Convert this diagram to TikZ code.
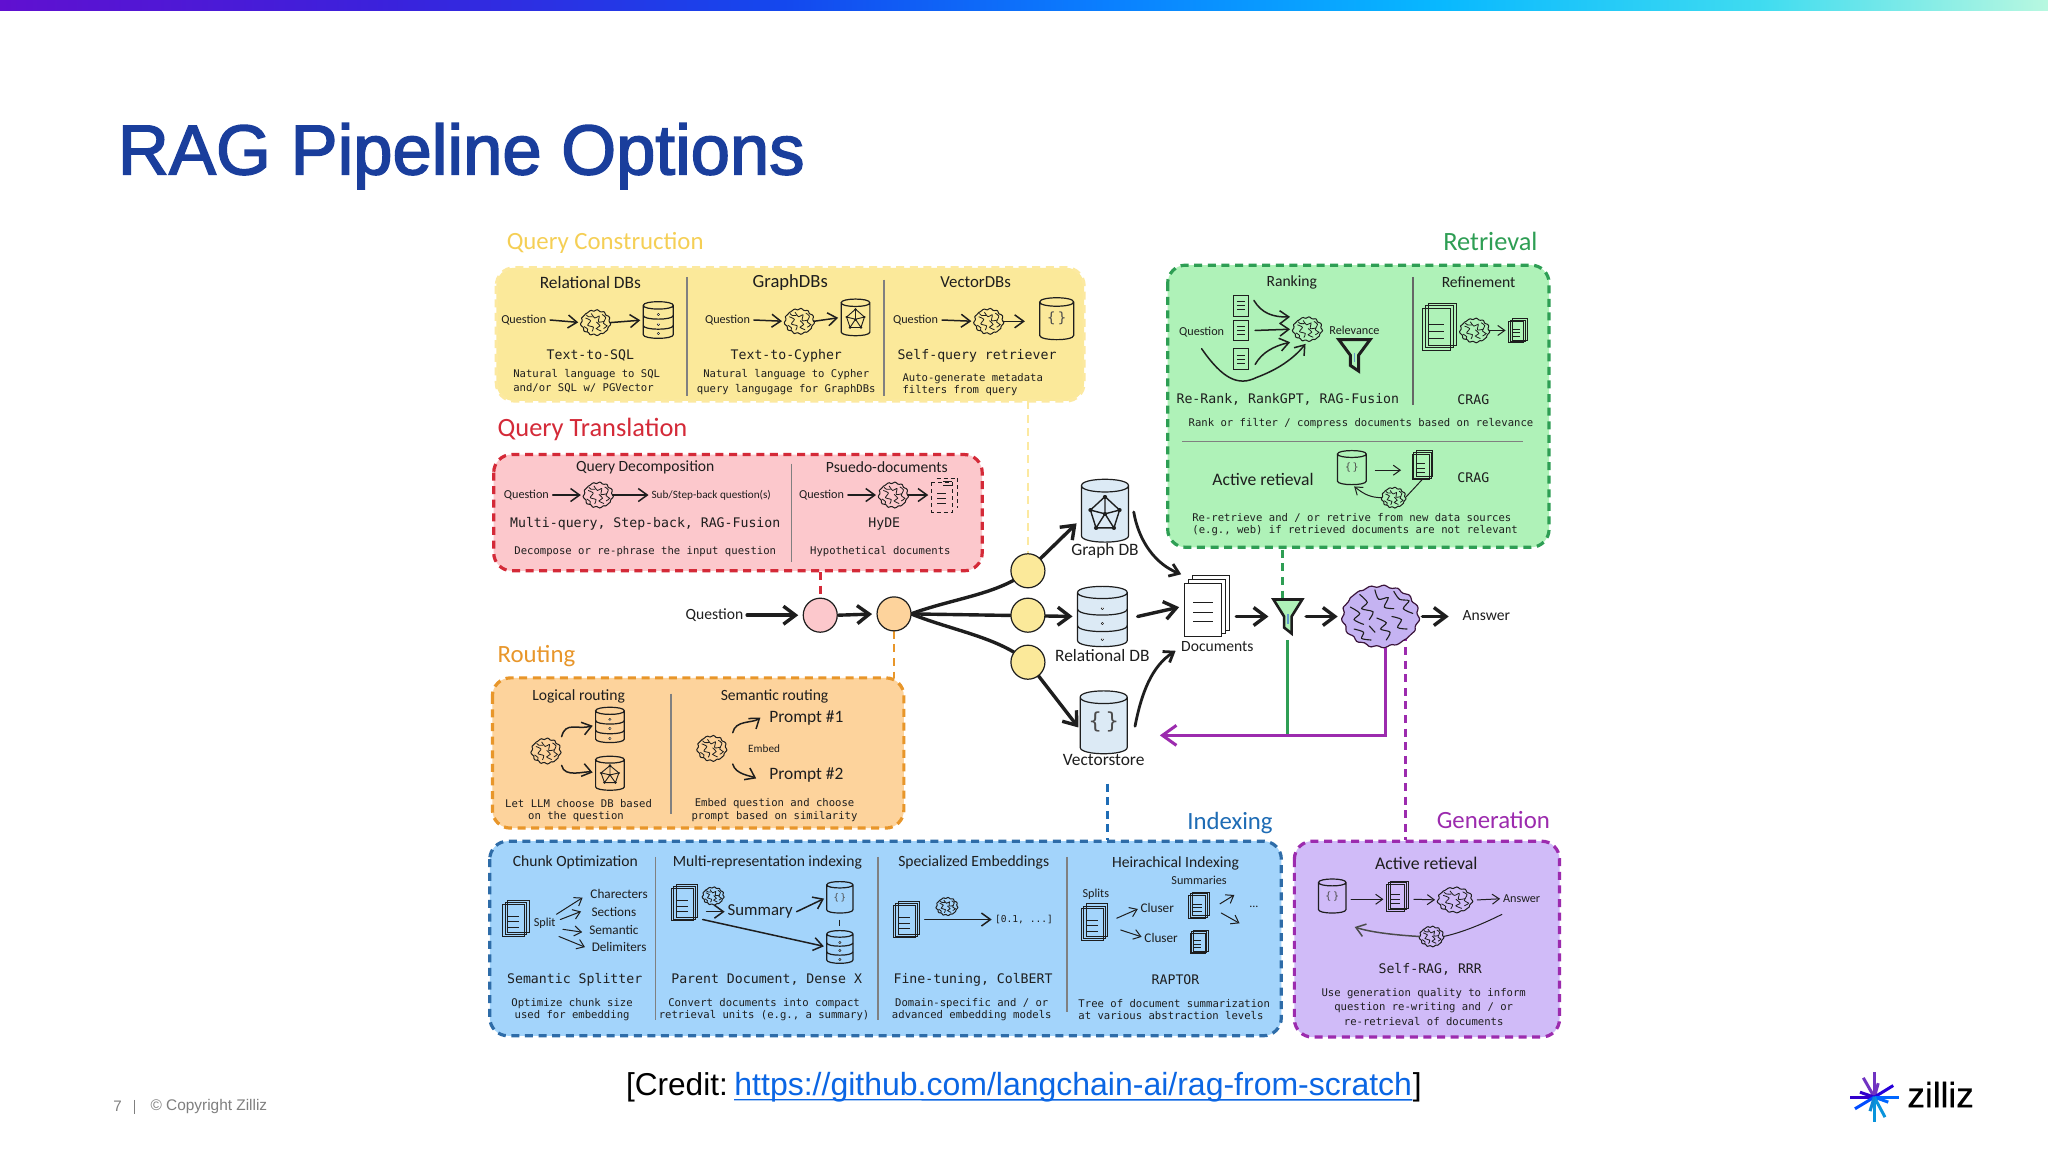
\documentclass[tikz,border=0pt]{standalone}
\usepackage{fontspec}
\usetikzlibrary{arrows.meta}
\setmainfont{Liberation Sans}
\newfontfamily\monof{DejaVu Sans Mono}
\newfontfamily\handf{Carlito}
\newfontfamily\titlef[FakeBold=2.2]{Liberation Sans}
\newfontfamily\logof[FakeBold=0.3]{Liberation Sans}
\definecolor{ink}{HTML}{1E1E1E}
\definecolor{yfill}{HTML}{FBE99A}\definecolor{yline}{HTML}{FCE9A0}\definecolor{ytxt}{HTML}{F5CF55}
\definecolor{rfill}{HTML}{FCC8CC}\definecolor{rline}{HTML}{D42A38}
\definecolor{ofill}{HTML}{FDD39C}\definecolor{oline}{HTML}{E8962A}
\definecolor{bfill}{HTML}{A3D4FB}\definecolor{bline}{HTML}{2E6CA8}\definecolor{btxt}{HTML}{1E6CB5}
\definecolor{gfill}{HTML}{AFF2B8}\definecolor{gline}{HTML}{2E9E54}
\definecolor{pfill}{HTML}{D0BBF8}\definecolor{pline}{HTML}{9C2BAE}
\definecolor{cylblue}{HTML}{DCEAF5}
\definecolor{bigbrain}{HTML}{C5B3F2}
\definecolor{titleblue}{HTML}{1A3E9C}
\definecolor{linkblue}{HTML}{0B66E4}
\definecolor{footgray}{HTML}{7F7F7F}
\pgfdeclarelayer{bg}\pgfdeclarelayer{conn}\pgfsetlayers{bg,conn,main}
\newcommand{\lowArc}[1]{(-1,#1) .. controls (-1,{#1+.27}) and (1,{#1+.27}) .. (1,#1)}
\newcommand{\ringdot}[1]{\draw[draw=ink,line width=1.5pt,line cap=round] (0,#1) -- ++(.001,0);\draw[draw=white,line width=.6pt,line cap=round] (0,#1) -- ++(.001,0);}
\newcommand{\ico}[6]{\node[inner sep=0pt,outer sep=0pt,minimum width={2*#4*0.65306pt},minimum height={2*#5*0.65306pt}] (#1) at (#2,#3) {};\pic[xscale=#4,yscale=#5] at (#1) {#6};}
\newcommand{\ray}[3]{\draw[line width=1.5pt,draw=#3] (1435,840) -- ++(#1,#2);}
\newcommand{\cylpath}[1]{\path[draw=ink,fill=#1,line width=.6pt] (-1,-.8) -- (-1,.8) .. controls (-1,1.07) and (1,1.07) .. (1,.8) -- (1,-.8) .. controls (1,-1.07) and (-1,-1.07) .. (-1,-.8) .. controls (-1,-.53) and (1,-.53) .. (1,-.8);}
\tikzset{
 x=0.65306pt,y=-0.65306pt,
 hnd/.style={font=\handf\fontsize{7.8}{9}\selectfont,text=ink,inner sep=0pt,outer sep=0pt},
 hmid/.style={font=\handf\fontsize{8.7}{10}\selectfont,text=ink,inner sep=0pt,outer sep=0pt},
 hsm/.style={font=\handf\fontsize{6.1}{7}\selectfont,text=ink,inner sep=0pt,outer sep=0pt},
 hsk/.style={font=\handf\fontsize{6.6}{8}\selectfont,text=ink,inner sep=0pt,outer sep=0pt},
 hbig/.style={font=\handf\fontsize{12.4}{14}\selectfont,inner sep=0pt,outer sep=0pt},
 hbg/.style={font=\handf\fontsize{13.2}{15}\selectfont,inner sep=0pt,outer sep=0pt},
 mlab/.style={font=\monof\fontsize{6.6}{8}\selectfont,text=ink,inner sep=0pt,outer sep=0pt},
 mdesc/.style={font=\monof\fontsize{5.3}{6.5}\selectfont,text=ink,inner sep=0pt,outer sep=0pt},
 ar/.style={draw=ink,line width=.75pt,line cap=round,shorten >=1.5pt,-{Straight Barb[length=4.5pt,width=6.5pt]}},
 ars/.style={draw=ink,line width=.5pt,line cap=round,shorten >=1.5pt,-{Straight Barb[length=3.5pt,width=5pt]}},
 arbig/.style={draw=ink,line width=1.7pt,line cap=round,shorten >=2.5pt,-{Straight Barb[length=6pt,width=9pt]}},
 panel/.style={line width=1.6pt,rounded corners=9pt,dash pattern=on 4pt off 2.8pt},
 divid/.style={draw=#1,line width=.8pt},
 dconn/.style={draw=#1,line width=1.3pt,dash pattern=on 4pt off 2.8pt},
 circ/.style={circle,draw=ink,line width=.6pt,minimum size=17pt,inner sep=0pt,outer sep=0pt,fill=#1},
 pics/brainp/.style={code={
  \path[draw=ink,fill=#1,line width=.5pt] plot[smooth cycle,domain=0:354,samples=60] ({(1+.06*sin(11*\x))*cos(\x)},{(.94+.06*cos(13*\x))*sin(\x)});
  \draw[ink,line width=.4pt] plot[smooth] coordinates {(-.7,-.35)(-.35,-.15)(-.55,.2)(-.15,.35)(-.25,.68)};
  \draw[ink,line width=.4pt] plot[smooth] coordinates {(-.3,-.7)(-.05,-.35)(.25,-.5)(.2,-.05)(.6,-.1)};
  \draw[ink,line width=.4pt] plot[smooth] coordinates {(.05,-.05)(.3,.25)(.05,.45)(.4,.65)};
  \draw[ink,line width=.4pt] plot[smooth] coordinates {(.45,-.62)(.7,-.4)(.55,.05)(.8,.25)(.55,.45)};
  \draw[ink,line width=.4pt] plot[smooth] coordinates {(-.8,.3)(-.55,.5)(-.6,.72)};
  \draw[ink,line width=.4pt] plot[smooth] coordinates {(-.65,-.6)(-.5,-.45)(-.2,-.45)};
 }},
 pics/brainp/.default=none,
 pics/bigbrainp/.style={code={
  \path[draw=ink!70!violet,fill=#1,line width=.6pt] plot[smooth cycle,domain=0:356,samples=90] ({(1+.035*sin(15*\x))*cos(\x)},{(.97+.035*cos(17*\x))*sin(\x)});
  \foreach \pts in {
   {(-.8,-.3)(-.55,-.1)(-.7,.1)(-.45,.25)},
   {(-.55,-.7)(-.35,-.45)(-.5,-.25)(-.2,-.15)(-.3,.1)},
   {(-.15,-.85)(-.05,-.55)(.2,-.6)(.1,-.3)(.35,-.25)},
   {(.35,-.8)(.5,-.55)(.75,-.5)(.6,-.25)(.85,-.1)},
   {(-.1,.05)(.15,.2)(0,.4)(.25,.5)(.15,.75)},
   {(.3,0)(.55,.1)(.45,.35)(.7,.4)},
   {(-.7,.4)(-.45,.5)(-.5,.7)(-.25,.75)},
   {(-.3,.3)(-.15,.5)}}{
   \draw[ink,line width=.55pt,line cap=round] plot[smooth] coordinates \pts;}
 }},
 pics/vecp/.style 2 args={code={
  \cylpath{#1}
  \node[inner sep=0pt,font=\monof\fontsize{#2}{#2}\selectfont,text=ink!80] (vecbrace) at (0,0) {\{\,\}};
 }},
 pics/dbp/.style={code={
  \cylpath{#1}
  \draw[ink,line width=.6pt] \lowArc{-.25};
  \draw[ink,line width=.6pt] \lowArc{.3};
  \ringdot{-.28}\ringdot{.22}\ringdot{.75}
 }},
 pics/graphp/.style 2 args={code={
  \cylpath{#1}
  \draw[ink,line width=#2,line join=round] (0,-.45) -- (.62,-.02) -- (.38,.55) -- (-.38,.55) -- (-.62,-.02) -- cycle (0,-.45) -- (0,.1) (.62,-.02) -- (0,.1) (.38,.55) -- (0,.1) (-.38,.55) -- (0,.1) (-.62,-.02) -- (0,.1);
  \foreach \q/\r in {0/-.45,.62/-.02,.38/.55,-.38/.55,-.62/-.02,0/.1}{\draw[ink,line width=3*#2,line cap=round] (\q,\r) -- ++(.001,0);}
 }},
 pics/docsp/.style 2 args={code={
  \path[draw=ink,fill=#1,line width=#2] (-.62,-1) rectangle (1,.8);
  \path[draw=ink,fill=#1,line width=#2] (-.82,-.88) rectangle (.82,.9);
  \path[draw=ink,fill=#1,line width=#2] (-1,-.75) rectangle (.65,1);
  \draw[ink,line width=#2] (-.6,-.1) -- (.25,-.1) (-.6,.2) -- (.25,.2) (-.6,.5) -- (.25,.5);
 }},
 pics/onedocp/.style={code={
  \draw[ink,line width=.5pt] (-1,-1) rectangle (1,1);
  \draw[ink,line width=.4pt] (-.5,-.4) -- (.5,-.4) (-.5,0) -- (.5,0) (-.5,.4) -- (.5,.4);
 }},
 pics/dashdocp/.style={code={
  \draw[ink,line width=.5pt,dash pattern=on 2pt off 1.5pt] (-1,-.75) rectangle (.6,1);
  \draw[ink,line width=.5pt,dash pattern=on 2pt off 1.5pt] (-.6,-1) -- (1,-1) -- (1,.75);
  \draw[ink,line width=.5pt] (-.55,-.1) -- (.15,-.1) (-.55,.2) -- (.15,.2) (-.55,.5) -- (.15,.5) (-.1,-.8) -- (.6,-.8) (-.1,-.55) -- (.6,-.55);
 }},
 pics/funnelp/.style 2 args={code={
  \path[draw=ink,fill=#1,line width=#2,line join=miter] (-1,-1) -- (1,-1) -- (.26,.0) -- (.26,1) -- (-.26,.65) -- (-.26,.0) -- cycle;
  \draw[line width=.8pt,draw=btxt!70] (0,-.15) -- (0,.45);
 }},
}
\begin{document}
\begin{tikzpicture}
\useasboundingbox (0,0) rectangle (1568,882);
\begin{pgfonlayer}{bg}
\fill[white] (0,0) rectangle (1568,882);
\shade[left color={rgb,255:red,96;green,16;blue,208},right color={rgb,255:red,58;green,34;blue,220}] (0,0) rectangle (301,8);
\shade[left color={rgb,255:red,58;green,34;blue,220},right color={rgb,255:red,20;green,72;blue,238}] (300,0) rectangle (601,8);
\shade[left color={rgb,255:red,20;green,72;blue,238},right color={rgb,255:red,10;green,128;blue,255}] (600,0) rectangle (851,8);
\shade[left color={rgb,255:red,10;green,128;blue,255},right color={rgb,255:red,8;green,184;blue,255}] (850,0) rectangle (1101,8);
\shade[left color={rgb,255:red,8;green,184;blue,255},right color={rgb,255:red,64;green,220;blue,240}] (1100,0) rectangle (1351,8);
\shade[left color={rgb,255:red,64;green,220;blue,240},right color={rgb,255:red,184;green,248;blue,224}] (1350,0) rectangle (1568,8);
\end{pgfonlayer}

\node[font=\titlef\fontsize{35.3}{37}\selectfont,text=titleblue,anchor=base west,inner sep=0pt] (title) at (90,133.5) {RAG Pipeline Options};

%% panels
\path[panel,fill=yfill,draw=yline] (380,205) rectangle (830,307);
\path[panel,fill=rfill,draw=rline] (378,348) rectangle (752,437);
\path[panel,fill=ofill,draw=oline] (377,519) rectangle (692,634);
\path[panel,fill=bfill,draw=bline] (375,644) rectangle (981,793);
\path[panel,fill=pfill,draw=pline] (991,644) rectangle (1194,794);
\path[panel,fill=gfill,draw=gline] (894,203) rectangle (1186,419);

%% panel titles
\node[hbig,text=ytxt,anchor=west] (tqc) at (388,186) {Query Construction};
\node[hbg,text=rline,anchor=west] (tqt) at (381,329) {Query Translation};
\node[hbig,text=oline,anchor=west] (trt) at (381,502) {Routing};
\node[hbig,text=btxt,anchor=west] (tix) at (909,630) {Indexing};
\node[hbig,text=pline,anchor=west] (tgn) at (1100,628) {Generation};
\node[hbg,text=gline,anchor=west] (trv) at (1105,185) {Retrieval};

%% ---- Query construction
\draw[divid=black!50] (526,212) -- (526,303);
\draw[divid=black!50] (677,214) -- (677,303);
\node[hmid] (h1) at (452,216) {Relational DBs};
\node[hmid,font=\handf\fontsize{9.3}{10}\selectfont] (h2) at (605,216) {GraphDBs};
\node[hmid,font=\handf\fontsize{8.4}{10}\selectfont] (h3) at (747,216) {VectorDBs};
\node[hsm] (qa) at (401,245) {Question};
\ico{ba}{456}{247}{11}{10}{brainp}
\ico{da}{504}{245}{11.5}{14}{dbp=none}
\draw[ar] (qa.east)++(3,0) -- (ba.west);
\draw[ar] (ba.east) -- (da.west);
\node[hsm] (qb) at (557,245) {Question};
\ico{bb}{612}{246}{11}{10}{brainp}
\ico{gb}{655}{243}{11}{14}{graphp={none}{.45pt}}
\draw[ar] (qb.east)++(3,0) -- (bb.west);
\draw[ar] (bb.east) -- (gb.west);
\node[hsm] (qc) at (701,245) {Question};
\ico{bc}{757}{246}{11}{10}{brainp}
\ico{vc}{809}{244}{13}{16}{vecp={none}{7}}
\draw[ar] (qc.east)++(3,0) -- (bc.west);
\draw[ar] (bc.east) -- ++(19,0);
\node[mlab] (la) at (452,272.5) {Text-to-SQL};
\node[mlab] (lb) at (602,272.5) {Text-to-Cypher};
\node[mlab] (lc) at (748,272.5) {Self-query retriever};
\node[mdesc,anchor=west] (da1) at (393,286.5) {Natural language to SQL};
\node[mdesc,anchor=west] (da2) at (393,297.5) {and/or SQL w/ PGVector};
\node[mdesc] (db1) at (602,287) {Natural language to Cypher};
\node[mdesc] (db2) at (602,298) {query langugage for GraphDBs};
\node[mdesc,anchor=west] (dc1) at (691,289.5) {Auto-generate metadata};
\node[mdesc,anchor=west] (dc2) at (691,299) {filters from query};

%% ---- Query translation
\draw[divid=black!50] (606,355) -- (606,430);
\node[hnd] (h4) at (494,358) {Query Decomposition};
\node[hnd] (h5) at (679,358) {Psuedo-documents};
\node[hsm] (qd) at (403,379) {Question};
\ico{bd}{458}{379}{11}{10}{brainp}
\node[hsm,font=\handf\fontsize{5.6}{7}\selectfont] (sq) at (544.5,379) {Sub/Step-back question(s)};
\draw[ar] (qd.east)++(3,0) -- (bd.west);
\draw[ar] (bd.east) -- (sq.west);
\node[hsm] (qe) at (629,379) {Question};
\ico{be}{684}{379}{11}{10}{brainp}
\ico{de}{723}{379}{10}{13}{dashdocp}
\draw[ar] (qe.east)++(3,0) -- (be.west);
\draw[ar] (be.east) -- (de.west);
\node[mlab] (ld) at (494,401) {Multi-query, Step-back, RAG-Fusion};
\node[mlab] (le) at (677,401) {HyDE};
\node[mdesc] (dd) at (494,422.5) {Decompose or re-phrase the input question};
\node[mdesc] (de2) at (674,422.5) {Hypothetical documents};

%% ---- Routing
\draw[divid=black!50] (513.5,531) -- (513.5,623);
\node[hnd] (h6) at (443,533.5) {Logical routing};
\node[hnd] (h7) at (593,533) {Semantic routing};
\ico{bf}{418}{575}{11}{10}{brainp}
\ico{df}{467}{555}{11}{13.5}{dbp=none}
\ico{gf}{467}{592}{11}{13}{graphp={none}{.45pt}}
\draw[ar] (bf.north east)++(1,-1) .. controls +(3,-12) and +(-14,4) .. (df.west);
\draw[ar] (bf.south east)++(1,1) .. controls +(2,10) and +(-8,-2) .. (gf.west);
\ico{bg}{545}{573}{11}{10}{brainp}
\node[hmid,anchor=west] (p1) at (589,550) {Prompt \#1};
\node[hmid,anchor=west] (p2) at (589,593) {Prompt \#2};
\node[hsm,font=\handf\fontsize{5.6}{7}\selectfont] (em) at (585,573) {Embed};
\coordinate (pa) at (584,548);
\coordinate (pb) at (581,597);
\draw[ar] (bg.north east)++(5,-2) .. controls +(2,-10) and +(-8,6) .. (pa);
\draw[ar] (bg.south east)++(5,2) .. controls +(2,8) and +(-6,-3) .. (pb);
\node[mdesc] (df1) at (443,615) {Let LLM choose DB based};
\node[mdesc] (df2) at (441,625) {on the question};
\node[mdesc] (dg1) at (593,615) {Embed question and choose};
\node[mdesc] (dg2) at (593,625) {prompt based on similarity};

%% ---- Retrieval
\draw[divid=black!60] (1082,212) -- (1082,310);
\draw[divid=black!50] (905,338) -- (1166,338);
\node[hnd] (h8) at (989,216) {Ranking};
\node[hnd] (h9) at (1132,216) {Refinement};
\node[hsm] (qr) at (920,254) {Question};
\ico{r1}{950}{234}{6}{8}{onedocp}
\ico{r2}{950}{253}{6}{8}{onedocp}
\ico{r3}{950}{275}{6}{8}{onedocp}
\ico{br}{1001}{252}{11}{9.5}{brainp}
\coordinate (ca) at (960,230);
\coordinate (cb) at (961,279);
\coordinate (cc) at (920,267);
\draw[ar] (ca) .. controls (966,240) and (975,243) .. (br.north west);
\draw[ar] (r2.east)++(5,0) -- (br.west);
\draw[ar] (cb) .. controls (966,270) and (975,265) .. (br.south west);
\draw[ar] (cc) .. controls (936,290) and (948,296) .. (962,289) .. controls (978,283) and (990,275) .. (br.south);
\node[hsm,font=\handf\fontsize{6.1}{7}\selectfont] (rl) at (1037,253) {Relevance};
\ico{fr}{1037}{272}{12}{12}{funnelp={none}{1.5pt}}
\ico{dr}{1102}{250}{13}{18}{docsp={none}{.45pt}}
\ico{bs}{1129}{253}{11}{9.5}{brainp}
\ico{ds}{1162}{253}{7}{9}{docsp={none}{.35pt}}
\draw[ars] (bs.east) -- (ds.west);
\node[mlab] (lr) at (986,306) {Re-Rank, RankGPT, RAG-Fusion};
\node[mlab] (ls) at (1128,306) {CRAG};
\node[mdesc] (dr1) at (1042,324) {Rank or filter / compress documents based on relevance};
\node[hmid,font=\handf\fontsize{8.8}{10}\selectfont] (ac) at (967,367) {Active retieval};
\ico{vt}{1035}{358}{11}{13}{vecp={none}{5}}
\ico{dt}{1089}{356}{8}{11}{docsp={none}{.35pt}}
\ico{bt}{1067}{381}{9}{8}{brainp}
\coordinate (ta) at (1053,360);
\coordinate (tb) at (1075,360);
\draw[ars] (ta) -- (tb);
\draw[ink,line width=.5pt] (dt.south) -- (bt.east);
\draw[ars] (bt.west) .. controls (1050,381) and (1045,379) .. (vt.south);
\node[mlab] (lt) at (1128,366) {CRAG};
\node[mdesc] (dt1) at (1035,396.5) {Re-retrieve and / or retrive from new data sources};
\node[mdesc] (dt2) at (1037.5,406.5) {(e.g., web) if retrieved documents are not relevant};

%% ---- Indexing
\draw[divid=black!50] (502,656) -- (502,781);
\draw[divid=black!50] (672,656) -- (672,781);
\draw[divid=black!50] (817,656) -- (817,775);
\node[hnd] (h10) at (440.5,660) {Chunk Optimization};
\node[hnd] (h11) at (587.5,660) {Multi-representation indexing};
\node[hnd] (h12) at (745.5,660) {Specialized Embeddings};
\node[hnd] (h13) at (900,661) {Heirachical Indexing};
\ico{dk}{395}{703}{10}{14}{docsp={none}{.4pt}}
\node[hsm] (sp) at (417,707) {Split};
\node[hsk] (s1) at (474,684.5) {Charecters};
\node[hsk] (s2) at (470,698) {Sections};
\node[hsk] (s3) at (470,712) {Semantic};
\node[hsk] (s4) at (474,725) {Delimiters};
\coordinate (ks1) at (426,700);\coordinate (ke1) at (448,686);
\coordinate (ks2) at (429,704);\coordinate (ke2) at (447,697);
\coordinate (ks3) at (431,711.5);\coordinate (ke3) at (448,714);
\coordinate (ks4) at (428,717);\coordinate (ke4) at (450,726);
\draw[ars] (ks1) -- (ke1);
\draw[ars] (ks2) -- (ke2);
\draw[ars] (ks3) -- (ke3);
\draw[ars] (ks4) -- (ke4);
\ico{dm}{524}{691}{10}{14}{docsp={none}{.4pt}}
\ico{bm}{546}{686}{8}{7}{brainp}
\node[hnd,font=\handf\fontsize{8.4}{10}\selectfont] (sm) at (582,698) {Summary};
\ico{vm}{643}{687}{10}{12}{vecp={none}{4.5}}
\ico{gm}{643}{725}{10}{12.5}{dbp=none}
\coordinate (ms) at (541,698);
\draw[ar] (ms) -- (sm.west);
\draw[ar] (sm.east)++(3,0) -- (vm.west);
\draw[ink,line width=.6pt] (643,704) -- (643,709);
\coordinate (mc) at (538,704);
\draw[ar] (mc) -- (gm.west);
\ico{dp}{694}{704}{10}{14}{docsp={none}{.4pt}}
\ico{bp}{725}{694}{8}{7}{brainp}
\node[font=\monof\fontsize{4.8}{6.5}\selectfont,text=ink,inner sep=0pt] (ve) at (784,704) {[0.1, ...]};
\draw[ar] (dp.east)++(4,0) -- (ve.west);
\node[hsm] (sl) at (839,685) {Splits};
\node[hsm] (su) at (918,674) {Summaries};
\ico{dh}{838}{706}{10}{14}{docsp={none}{.4pt}}
\node[hsk] (c1) at (886,695) {Cluser};
\node[hsk] (c2) at (889,718) {Cluser};
\ico{d1}{918}{693}{8}{10}{docsp={none}{.35pt}}
\ico{d2}{918}{721}{7}{9}{docsp={none}{.35pt}}
\draw[ars] (dh.east)++(7,-3) -- (c1.west);
\draw[ars] (dh.east)++(10,6) -- (c2.west);
\node[hsm] (el) at (960,694) {...};
\coordinate (ha) at (947,684);
\coordinate (hb) at (951,708);
\draw[ars] (d1.east)++(8,-1) -- (ha);
\draw[ars] (d1.east)++(9,6) -- (hb);
\node[mlab] (lk) at (440,750) {Semantic Splitter};
\node[mlab] (lm) at (587,750) {Parent Document, Dense X};
\node[mlab] (lp) at (745,750) {Fine-tuning, ColBERT};
\node[mlab] (lh) at (900,750) {RAPTOR};
\node[mdesc] (dk1) at (438,768) {Optimize chunk size};
\node[mdesc] (dk2) at (438,777.5) {used for embedding};
\node[mdesc] (dm1) at (585,768) {Convert documents into compact};
\node[mdesc] (dm2) at (585,777.5) {retrieval units (e.g., a summary)};
\node[mdesc] (dp1) at (744,768) {Domain-specific and / or};
\node[mdesc] (dp2) at (744,777.5) {advanced embedding models};
\node[mdesc] (dh1) at (899,768) {Tree of document summarization};
\node[mdesc] (dh2) at (896.5,777.5) {at various abstraction levels};

%% ---- Generation
\node[hmid,font=\handf\fontsize{8.9}{10}\selectfont] (h14) at (1092,661) {Active retieval};
\ico{vg}{1020}{686}{10.5}{13}{vecp={none}{5}}
\ico{dg}{1070}{686}{8.5}{11.5}{docsp={none}{.4pt}}
\ico{bh}{1114}{689}{13}{10}{brainp}
\node[hsm] (an) at (1165,688) {Answer};
\draw[ars] (vg.east)++(4,2.5) -- (dg.west |- 0,688.5);
\draw[ars] (dg.east)++(4,2.5) -- (bh.west);
\draw[ars] (bh.east)++(4,0) -- (an.west);
\ico{bi}{1096}{717}{9}{8}{brainp}
\coordinate (ga) at (1150,700);
\coordinate (gb2) at (1035,709);
\draw[ink,line width=.5pt] (ga) .. controls (1130,710) and (1115,715) .. (bi.east);
\draw[ar,draw=ink!80] (bi.west) .. controls (1070,716) and (1050,714) .. (gb2);
\node[mlab] (lg) at (1095,742) {Self-RAG, RRR};
\node[mdesc] (dg1a) at (1090,761) {Use generation quality to inform};
\node[mdesc] (dg2a) at (1090,771.5) {question re-writing and / or};
\node[mdesc] (dg3a) at (1090,782) {re-retrieval of documents};

%% ---- Central flow
\node[hnd] (Q) at (547,471) {Question};
\node[circ=rfill] (cP) at (628,471) {};
\node[circ=ofill] (cO) at (684.5,470) {};
\node[circ=yfill] (y1) at (787,437) {};
\node[circ=yfill] (y2) at (787,471) {};
\node[circ=yfill] (y3) at (787,507) {};
\ico{GD}{846}{391}{18}{24}{graphp={cylblue}{.7pt}}
\node[hmid] (GDl) at (846,422) {Graph DB};
\ico{RD}{844}{472}{19}{23}{dbp=cylblue}
\node[hmid] (RDl) at (844,502) {Relational DB};
\ico{VD}{845}{553}{18}{24}{vecp={cylblue}{11}}
\node[hmid] (VDl) at (845,582) {Vectorstore};
\ico{DC}{924}{464}{17.5}{23.5}{docsp={white}{.5pt}}
\node[hnd] (DCl) at (932,495) {Documents};
\ico{FN}{986}{472}{11}{13}{funnelp={gfill}{1.3pt}}
\ico{BR}{1057}{472}{29}{24}{bigbrainp=bigbrain}
\node[hnd] (AN) at (1138,471) {Answer};
\coordinate (gtop) at (986,490);
\coordinate (gbot) at (986,563);
\coordinate (pcor) at (1061,563);
\coordinate (phed) at (888,563);
\coordinate (gdin) at (827,398);
\coordinate (vdin) at (828,560);
\coordinate (dcin) at (902,497);
\coordinate (gdout) at (868,392);
\coordinate (yt) at (787,307);
\coordinate (rt) at (628,438);
\coordinate (ot) at (684.5,519);
\coordinate (bb1) at (848,600);
\coordinate (bb2) at (848,643);
\coordinate (gr1) at (982,421);
\coordinate (gr2) at (982,458);
\coordinate (pp1) at (1076,485);
\coordinate (pp2) at (1076,643);
\begin{pgfonlayer}{conn}
\draw[dconn=yline] (yt) -- (y1.north);
\draw[dconn=rline] (rt) -- (cP.north);
\draw[dconn=oline] (cO.south) -- (ot);
\draw[dconn=btxt] (bb1) -- (bb2);
\draw[dconn=gline] (gr1) -- (gr2);
\draw[dconn=pline] (pp1) -- (pp2);
\draw[arbig] (cO.east) .. controls (730,458) and (765,455) .. (y1.center) -- (gdin);
\draw[arbig] (cO.east) -- (RD.west);
\draw[arbig] (cO.east) .. controls (730,483) and (765,488) .. (y3.center) -- (vdin);
\end{pgfonlayer}
\draw[arbig] (Q.east)++(3,0) -- (cP.west);
\draw[arbig] (cP.east)++(1,0) -- (cO.west);
\draw[ar,line width=1.4pt] (gdout) .. controls (872,415) and (885,432) .. (DC.north west);
\draw[arbig] (RD.east)++(8,0) -- (DC.west);
\draw[ar,line width=1.4pt] (VD.east)++(6,3) .. controls (874,530) and (882,510) .. (dcin);
\draw[arbig] (DC.east)++(5,8) -- (FN.west);
\draw[arbig] (FN.east)++(3,0) -- (BR.west);
\draw[arbig] (BR.east)++(3,0) -- ++(24,0);
\draw[line width=1.5pt,draw=gline] (gtop) -- (gbot);
\draw[line width=1.5pt,draw=pline,-{Straight Barb[length=7pt,width=10pt]},line join=miter] (BR.south -| pcor) -- (pcor) -- (phed);

%% ---- Footer
\node[font=\fontsize{15.8}{17}\selectfont,text=black,anchor=base west,inner sep=0pt] (cr1) at (479,839) {[Credit:};
\node[font=\fontsize{16}{17}\selectfont,text=linkblue,anchor=base west,inner sep=0pt] (cr2) at (562,839) {https://github.com/langchain-ai/rag-from-scratch};
\node[font=\fontsize{15.8}{17}\selectfont,text=black,anchor=base west,inner sep=0pt] (cr3) at (cr2.base east) {]};
\draw[linkblue,line width=.7pt] (cr2.base west)++(0,3) -- ([yshift=-2pt]cr2.base east);
\node[font=\fontsize{7.6}{9}\selectfont,text=footgray,inner sep=0pt] (pg) at (90,847) {7};
\draw[footgray,line width=.5pt] (103,842) -- (103,853);
\node[font=\fontsize{7.7}{9}\selectfont,text=footgray,anchor=west,inner sep=0pt] (cp) at (115,847) {© Copyright Zilliz};
\node[font=\logof\fontsize{17.6}{19}\selectfont,text=black,anchor=west,inner sep=0pt] (zl) at (1460,838) {zilliz};
\ray{0}{-19}{violet!60!blue!80}
\ray{-8.4}{-14.8}{violet!60!blue!80}
\ray{3}{-10.7}{violet!60!blue!80}
\ray{14.5}{-8.9}{blue!70!violet}
\ray{-19}{0}{blue!60!violet}
\ray{19}{0}{blue!60!cyan}
\ray{-11}{-3.8}{blue!60!violet}
\ray{10.7}{3.8}{blue!60!cyan}
\ray{-14.8}{8.9}{blue!70!cyan}
\ray{0}{19}{cyan!80!blue}
\ray{8.2}{15.3}{cyan!80!blue}
\ray{-3.3}{10.7}{cyan!70!blue}
\end{tikzpicture}
\end{document}
